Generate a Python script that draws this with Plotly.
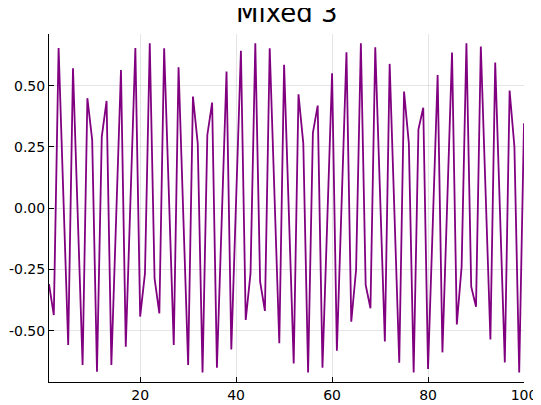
import plotly.graph_objects as go

title_text = "Mixed 3"
x_index = list(range(1, 101))
signal = [
    -0.31, -0.436, 0.654, 0.048, -0.558, 0.571, -0.035, -0.640, 0.449, 0.279,
    -0.667, 0.292, 0.438, -0.640, -0.038, 0.564, -0.565, 0.054, 0.654, -0.442,
    -0.266, 0.673, -0.286, -0.429, 0.653, 0.048, -0.558, 0.575, -0.033, -0.640,
    0.456, 0.265, -0.670, 0.299, 0.431, -0.651, -0.047, 0.558, -0.576, 0.034,
    0.643, -0.456, -0.266, 0.673, -0.300, -0.419, 0.653, 0.051, -0.551, 0.585,
    -0.026, -0.633, 0.465, 0.265, -0.670, 0.308, 0.419, -0.651, -0.050, 0.551,
    -0.581, 0.028, 0.636, -0.463, -0.252, 0.673, -0.313, -0.408, 0.657, 0.057,
    -0.544, 0.589, -0.020, -0.630, 0.476, 0.265, -0.670, 0.322, 0.410, -0.656,
    -0.056, 0.544, -0.588, 0.024, 0.635, -0.474, -0.238, 0.673, -0.320, -0.402,
    0.660, 0.063, -0.535, 0.595, -0.017, -0.629, 0.480, 0.252, -0.670, 0.347,
]
x_ticks = [20, 40, 60, 80, 100]
x_tick_labels = ["20", "40", "60", "80", "100"]
y_ticks = [-0.5, -0.25, 0.0, 0.25, 0.5]
y_tick_labels = ["-0.50", "-0.25", "0.00", "0.25", "0.50"]

# the page adds an 8px body margin, so positions are shifted by 8px
W, H = 541, 397
ML, MT, MB = 41, 26, 23
MR = W - 516.5
plot_h = H - MT - MB

fig = go.Figure()
fig.add_trace(go.Scatter(
    x=x_index, y=signal, mode="lines",
    line=dict(color="#800080", width=1.8),
    showlegend=False, hoverinfo="skip",
))

grid = "rgba(0,0,0,0.1)"
fig.update_layout(
    width=W, height=H,
    margin=dict(l=ML, r=MR, t=MT, b=MB, pad=0, autoexpand=False),
    paper_bgcolor="white", plot_bgcolor="white",
    font=dict(family="DejaVu Sans", size=12, color="black"),
    xaxis=dict(
        range=[1, 100], tickvals=x_ticks, ticktext=x_tick_labels,
        ticks="inside", ticklen=5, tickcolor="black", tickwidth=1,
        showline=True, linecolor="black", linewidth=1,
        showgrid=True, gridcolor=grid, gridwidth=1, zeroline=False,
        tickfont=dict(size=14), automargin=False,
    ),
    yaxis=dict(
        range=[-0.709, 0.711], tickvals=y_ticks, ticktext=y_tick_labels,
        ticks="inside", ticklen=5, tickcolor="black", tickwidth=1,
        showline=True, linecolor="black", linewidth=1,
        showgrid=True, gridcolor=grid, gridwidth=1, zeroline=False,
        tickfont=dict(size=14), automargin=False,
    ),
)

# title sits partly above the top edge of the figure, as in the reference
fig.add_annotation(
    text=title_text, xref="paper", yref="paper",
    x=0.5, y=1 + (MT - 5) / plot_h, xanchor="center", yanchor="middle",
    showarrow=False, font=dict(family="DejaVu Sans", size=26, color="black"),
)

fig.write_html("out.html")
